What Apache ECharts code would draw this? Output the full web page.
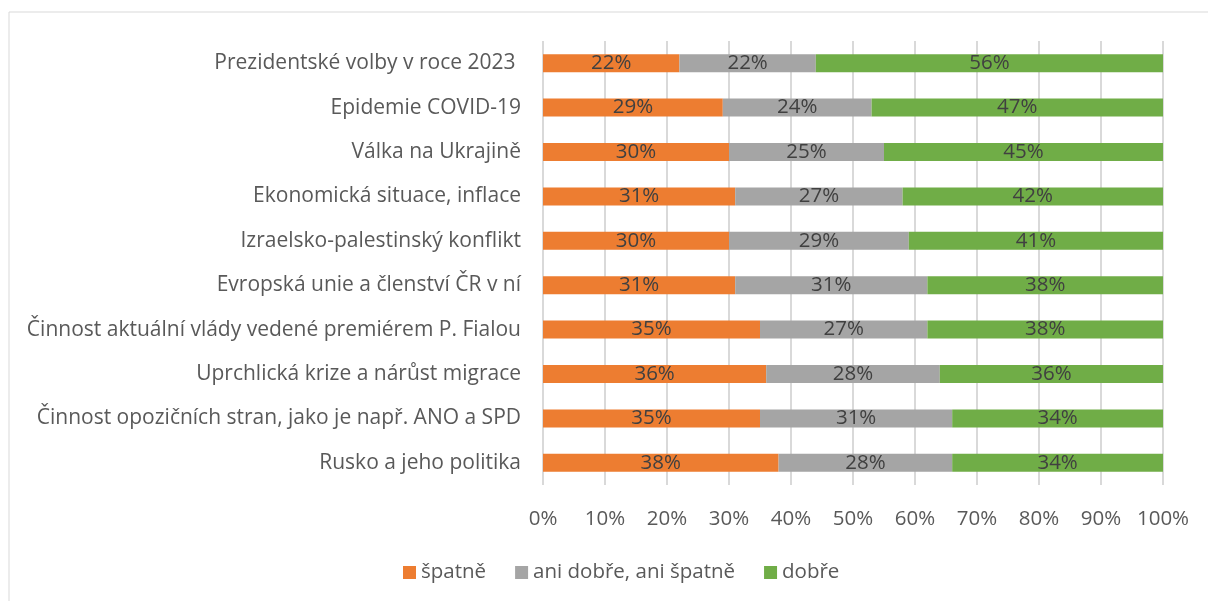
<!DOCTYPE html>
<html>
<head>
<meta charset="utf-8">
<script src="https://cdn.jsdelivr.net/npm/echarts@6/dist/echarts.min.js"></script>
<style>
  html, body { margin: 0; padding: 0; background: #fff; }
  #chart { width: 1208px; height: 601px; }
</style>
</head>
<body>
<div id="chart"></div>
<script>
// kategorie shora dolů
var categories = [
  'Prezidentské volby v roce 2023 ',
  'Epidemie COVID-19',
  'Válka na Ukrajině',
  'Ekonomická situace, inflace',
  'Izraelsko-palestinský konflikt',
  'Evropská unie a členství ČR v ní',
  'Činnost aktuální vlády vedené premiérem P. Fialou',
  'Uprchlická krize a nárůst migrace',
  'Činnost opozičních stran, jako je např. ANO a SPD',
  'Rusko a jeho politika'
];
var spatne = [22, 29, 30, 31, 30, 31, 35, 36, 35, 38];
var ani = [22, 24, 25, 27, 29, 31, 27, 28, 31, 28];
var dobre = [56, 47, 45, 42, 41, 38, 38, 36, 34, 34];
var seriesNames = ['špatně', 'ani dobře, ani špatně', 'dobře'];
var colors = ['#ED7D31', '#A5A5A5', '#70AD47'];

var font = 'Open Sans';
var chart = echarts.init(document.getElementById('chart'));

function bar(name, data, color) {
  return {
    name: name,
    type: 'bar',
    stack: 'total',
    barWidth: 18,
    data: data,
    itemStyle: { color: color },
    label: {
      show: true,
      position: 'inside',
      formatter: '{c}%',
      color: '#404040',
      fontSize: 20.5,
      fontFamily: font
    }
  };
}

var option = {
  animation: false,
  color: colors,
  graphic: [{
    type: 'rect',
    shape: { x: 9, y: 12, width: 1300, height: 700 },
    style: { fill: 'none', stroke: '#d9d9d9', lineWidth: 1 }
  }],
  grid: { left: 543, right: 45, top: 41, bottom: 116 },
  legend: {
    top: 557,
    left: 398,
    itemWidth: 13,
    itemHeight: 13,
    itemGap: 29,
    icon: 'rect',
    textStyle: { color: '#595959', fontSize: 20.5, fontFamily: font },
    data: seriesNames
  },
  xAxis: {
    type: 'value',
    min: 0,
    max: 100,
    interval: 10,
    axisLine: { show: false },
    axisTick: { show: false },
    axisLabel: {
      formatter: '{value}%',
      color: '#595959',
      fontSize: 20.5,
      fontFamily: font,
      margin: 24
    },
    splitLine: { lineStyle: { color: '#d9d9d9', width: 2 } }
  },
  yAxis: {
    type: 'category',
    inverse: true,
    data: categories,
    axisLine: { show: false },
    axisTick: { show: false },
    axisLabel: {
      color: '#595959',
      fontSize: 21,
      fontFamily: font,
      margin: 22
    }
  },
  series: [
    bar(seriesNames[0], spatne, colors[0]),
    bar(seriesNames[1], ani, colors[1]),
    bar(seriesNames[2], dobre, colors[2])
  ]
};

chart.setOption(option);
</script>
</body>
</html>
